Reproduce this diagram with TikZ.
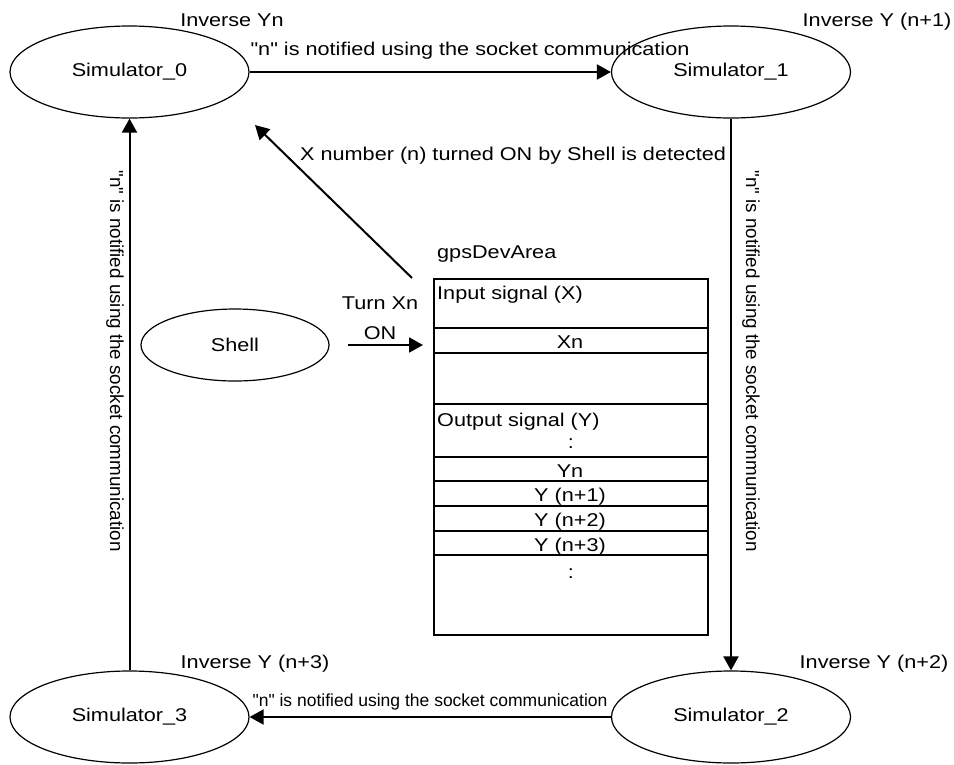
\documentclass[tikz,border=0pt]{standalone}
\usepackage{fontspec}
\setmainfont{Liberation Sans}[FakeStretch=1.17,Ligatures=TeXOff]
\newfontfamily\plainfont{Liberation Sans}[Ligatures=TeXOff]
\usetikzlibrary{arrows.meta,shapes.geometric}
\begin{document}
\begin{tikzpicture}[x=1pt,y=-1pt,
  txt/.style={inner sep=0pt, font=\fontsize{18.5}{22}\selectfont},
  sim/.style={draw, ellipse, line width=1.2pt, inner sep=0pt, minimum width=239pt, minimum height=92pt, font=\fontsize{18.5}{22}\selectfont},
  arr/.style={line width=2pt, -{Triangle[length=14pt,width=15pt]}},
  rowline/.style={line width=1.1pt},
  vlabel/.style={inner sep=0pt, rotate=-90, font=\plainfont\fontsize{18.8}{22}\selectfont}]
\useasboundingbox (0,0) rectangle (954,764);
% simulators
\node[sim] (s0) at (129.5,72) {Simulator\_0};
\node[sim] (s1) at (731,72) {Simulator\_1};
\node[sim] (s2) at (731,717) {Simulator\_2};
\node[sim] (s3) at (129.5,717) {Simulator\_3};
\node[sim, minimum width=188pt, minimum height=72pt] (sh) at (235,345) {Shell};
% inverse labels
\node[txt, anchor=base] (i0) at (232,26) {Inverse Yn};
\node[txt, anchor=base] (i1) at (877,26) {Inverse Y (n+1)};
\node[txt, anchor=base] (i2) at (874,668) {Inverse Y (n+2)};
\node[txt, anchor=base] (i3) at (255,668) {Inverse Y (n+3)};
% connectors between simulators
\draw[arr] (s0) -- (s1);
\draw[arr] (s1) -- (s2);
\draw[arr] (s2) -- (s3);
\draw[arr] (s3) -- (s0);
\node[txt, anchor=base] (lt) at (470,55) {"n" is notified using the socket communication};
\node[inner sep=0pt, anchor=base, font=\plainfont\fontsize{17.5}{21}\selectfont] (lb) at (430,706) {"n" is notified using the socket communication};
\node[vlabel] (ll) at (115,361) {"n" is notified using the socket communication};
\node[vlabel] (lr) at (751,361) {"n" is notified using the socket communication};
% memory area box
\node[draw, line width=2.4pt, minimum width=274pt, minimum height=356pt, inner sep=0pt, anchor=north west] (box) at (433,278) {};
\node[txt, anchor=base west] (ga) at (437,258) {gpsDevArea};
\draw[rowline] (433,328) -- (707,328);
\draw[rowline] (433,353) -- (707,353);
\draw[line width=2.4pt] (433,404) -- (707,404);
\draw[rowline] (433,457) -- (707,457);
\draw[rowline] (433,481) -- (707,481);
\draw[rowline] (433,506) -- (707,506);
\draw[rowline] (433,531) -- (707,531);
\draw[rowline] (433,555) -- (707,555);
\node[txt, anchor=base west] (tin) at (437,299) {Input signal (X)};
\node[txt, anchor=base] (txn) at (570,348) {Xn};
\node[txt, anchor=base west] (tout) at (437,426) {Output signal (Y)};
\node[txt, anchor=base] (dot1) at (571,448) {:};
\node[txt, anchor=base] (tyn) at (570,477) {Yn};
\node[txt, anchor=base] (ty1) at (570,501) {Y (n+1)};
\node[txt, anchor=base] (ty2) at (570,526) {Y (n+2)};
\node[txt, anchor=base] (ty3) at (570,551) {Y (n+3)};
\node[txt, anchor=base] (dot2) at (571,578) {:};
% shell to box
\draw[arr] ([xshift=18pt]sh.east) -- ([xshift=-10pt]box.west |- sh.east);
\node[txt, align=center, font=\fontsize{18.5}{30}\selectfont] (turn) at (380,318) {Turn Xn\\ON};
% detection arrow
\coordinate (d1) at (412,278);
\coordinate (d2) at (255,125);
\draw[arr] (d1) -- (d2);
\node[txt, anchor=base west] (det) at (300,160) {X number (n) turned ON by Shell is detected};
\end{tikzpicture}
\end{document}
